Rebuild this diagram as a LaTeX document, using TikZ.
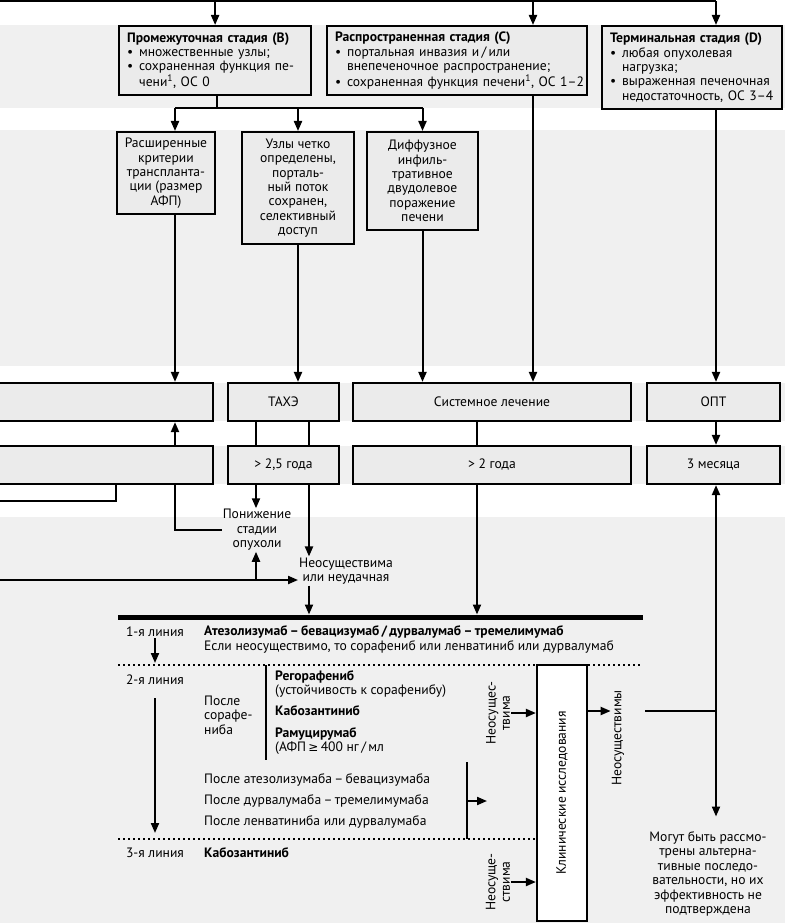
\documentclass[tikz,border=0pt]{standalone}
\usepackage{fontspec}
\setmainfont{PT Sans}
\newfontfamily\symfont{DejaVu Sans}
\usetikzlibrary{arrows.meta,backgrounds}

\newcommand{\itm}{\makebox[12pt][l]{\textbullet}}
\newcommand{\cnt}{\hspace*{12pt}}

\begin{document}
\begin{tikzpicture}[x=1pt,y=-1pt,>={Triangle[length=10pt,width=8pt]},
    font=\fontsize{13.6}{14.4}\selectfont]
    \tikzstyle{stage}=[draw=black,line width=2.2pt,fill=black!8,anchor=north west,align=left,inner xsep=8pt,inner ysep=0pt]
    \tikzstyle{crit}=[draw=black,line width=2.2pt,fill=black!8,anchor=north,align=center,inner sep=0pt]
    \tikzstyle{treat}=[draw=black,line width=2.2pt,fill=black!8,minimum height=38pt,inner sep=0pt]
    \tikzstyle{note}=[align=center,inner sep=1pt]
    \tikzstyle{txt}=[anchor=west,align=left,inner sep=0pt]
    \tikzstyle{rot}=[rotate=90,align=center,inner sep=1pt]
    \tikzstyle{edge}=[draw=black,line width=2pt]
    \tikzstyle{flow}=[edge,->]
    \tikzstyle{sep}=[draw=black,line width=1.7pt,dash pattern=on 1.7pt off 3.3pt]

    \useasboundingbox (0,0) rectangle (785,923);

    % stages
    \node [stage,text width=176pt,minimum height=69pt] (B) at (118,25)
        {\textbf{Промежуточная стадия (B)}\\
         \itm множественные узлы;\\
         \mbox{\itm сохраненная функция пе-}\\
         \cnt чени\textsuperscript{1}, ОС 0};
    \node [stage,text width=244pt,minimum height=69pt] (C) at (326,25)
        {\textbf{Распространенная стадия (C)}\\
         \itm портальная инвазия и\,/\,или\\
         \mbox{\cnt внепеченочное распространение;}\\
         \mbox{\itm сохраненная функция печени\textsuperscript{1}, ОС 1--2}};
    \node [stage,text width=164pt,minimum height=83pt] (D) at (601,25)
        {\textbf{Терминальная стадия (D)}\\
         \itm любая опухолевая\\
         \cnt нагрузка;\\
         \itm выраженная печеночная\\
         \mbox{\cnt недостаточность, ОС 3--4}};

    % criteria
    \node [crit,minimum width=98pt,minimum height=82pt] (tx) at (166,131)
        {Расширенные\\критерии\\транспланта-\\ции (размер\\АФП)};
    \node [crit,minimum width=112pt,minimum height=112pt] (nod) at (298,131)
        {Узлы четко\\определены,\\порталь-\\ный поток\\сохранен,\\селективный\\доступ};
    \node [crit,minimum width=111pt,minimum height=98pt] (dif) at (422.5,131)
        {Диффузное\\инфиль-\\тративное\\двудолевое\\поражение\\печени};

    % treatment and survival
    \node [treat,minimum width=223pt] (L1)   at (101.5,402) {};
    \node [treat,minimum width=111pt] (tace) at (283.5,402) {ТАХЭ};
    \node [treat,minimum width=278pt] (sys)  at (492,402)   {Системное лечение};
    \node [treat,minimum width=133pt] (opt)  at (713.5,402) {ОПТ};
    \node [treat,minimum width=223pt] (L2)   at (101.5,465) {};
    \node [treat,minimum width=111pt] (g25)  at (283.5,465) {> 2,5 года};
    \node [treat,minimum width=278pt] (g2)   at (492,465)   {> 2 года};
    \node [treat,minimum width=133pt] (m3)   at (713.5,465) {3 месяца};

    \node [note] (dn)   at (257,530) {Понижение\\стадии\\опухоли};
    \node [note] (fail) at (346,571) {Неосуществима\\или неудачная};

    % lines of therapy
    \node [note] (l1) at (155,632) {1-я линия};
    \node [note] (l2) at (155,680) {2-я линия};
    \node [note] (l3) at (155,853) {3-я линия};

    \node [txt] (t1) at (204,639.5)
        {\textbf{Атезолизумаб\,--\,бевацизумаб\,/\,дурвалумаб\,--\,тремелимумаб}\\
         Если неосуществимо, то сорафениб или ленватиниб или дурвалумаб};
    \node [txt] (aso) at (204,715) {После\\сорафе-\\ниба};
    \node [txt,anchor=north west] (t2) at (275,670)
        {\textbf{Регорафениб}\\(устойчивость к сорафенибу)\\[7pt]
         \textbf{Кабозантиниб}\\[7pt]
         \textbf{Рамуцирумаб}\\(АФП\,{\symfont\fontsize{12}{14}\selectfont ≥}\,400 нг\,/\,мл};
    \node [txt] (a1) at (204,780) {После атезолизумаба\,--\,бевацизумаба};
    \node [txt] (a2) at (204,801) {После дурвалумаба\,--\,тремелимумаба};
    \node [txt] (a3) at (204,822) {После ленватиниба или дурвалумаба};
    \node [txt] (t3) at (204,853) {\textbf{Кабозантиниб}};

    \node [rot] (nf1) at (498,713) {Неосущес-\\твима};
    \node [rot] (nf2) at (498,882) {Неосуще-\\ствима};
    \node [rot,draw=black,line width=2.2pt,fill=white,minimum width=256pt,minimum height=50pt] (ct) at (562,793)
        {Клинические исследования};
    \node [rot] (unw) at (618,738) {Неосуществимы};
    \node [note] (alt) at (708,874)
        {Могут быть рассмо-\\трены альтерна-\\тивные последо-\\вательности, но их\\эффективность не\\подтверждена};

    \coordinate (top0) at (0,1.2);
    \coordinate (cC)   at (533,1.2);
    \coordinate (cD)   at (716,1.2);
    \coordinate (bs)   at (217,108);
    \coordinate (c0)   at (116,0);
    \coordinate (c1)   at (175,0);
    \coordinate (c2)   at (256,0);
    \coordinate (c3)   at (309,0);
    \coordinate (c5)   at (477,0);
    \coordinate (l2o)  at (0,501);
    \coordinate (lft)  at (0,580);
    \coordinate (barL) at (118,617);
    \coordinate (barR) at (643,617);
    \coordinate (d1L)  at (118,665);
    \coordinate (d1R)  at (643,665);
    \coordinate (d2L)  at (118,839);
    \coordinate (v1)   at (266,665);
    \coordinate (v2)   at (266,760);
    \coordinate (br1)  at (467,762);
    \coordinate (br2)  at (467,839);
    \coordinate (brm)  at (467,801);
    \coordinate (brt)  at (487,801);
    \coordinate (mj)   at (716,711);

    \begin{pgfonlayer}{background}
        \fill [black!6] (0,25) rectangle (785,108);
        \fill [black!6] (0,130) rectangle (785,366);
        \fill [black!6] (0,383) rectangle (785,421);
        \fill [black!6] (0,446) rectangle (785,484);
        \fill [black!6] (0,517) rectangle (785,923);
        \draw [flow] (dn.west) -| (c1 |- L1.south);
    \end{pgfonlayer}

    % stages
    \draw [edge,line width=2.4pt] (top0) -- (cD);
    \draw [flow] (B.north |- top0) -- (B.north);
    \draw [flow] (cC) -- (cC |- C.north);
    \draw [flow] (cD) -- (cD |- D.north);
    \draw [edge] (bs |- B.south) -- (bs);
    \draw [edge] (c1 |- bs) -- (dif.north |- bs);
    \draw [flow] (c1 |- bs) -- (c1 |- tx.north);
    \draw [flow] (nod.north |- bs) -- (nod.north);
    \draw [flow] (dif.north |- bs) -- (dif.north);

    % to treatment
    \draw [flow] (c1 |- tx.south) -- (c1 |- L1.north);
    \draw [flow] (nod.south) -- (nod.south |- tace.north);
    \draw [flow] (dif.south) -- (dif.south |- sys.north);
    \draw [flow] (cC |- C.south) -- (cC |- sys.north);
    \draw [flow] (cD |- D.south) -- (cD |- opt.north);
    \draw [flow] (cD |- opt.south) -- (cD |- m3.north);
    \draw [edge] (c2 |- tace.south) -- (c2 |- g25.north);
    \draw [edge] (c3 |- tace.south) -- (c3 |- g25.north);
    \draw [edge] (c5 |- sys.south) -- (c5 |- g2.north);
    \draw [edge] (l2o) -| (c0 |- L2.south);

    \draw [flow] (c2 |- g25.south) -- (c2 |- dn.north);
    \draw [flow] (c3 |- g25.south) -- (c3 |- fail.north);
    \draw [flow] (lft) -- (lft -| fail.west);
    \draw [flow] (c2 |- lft) -- (c2 |- dn.south);
    \draw [flow,shorten >=2.5pt] (c3 |- fail.south) -- (c3 |- barL);
    \draw [flow,shorten >=2.5pt] (c5 |- g2.south) -- (c5 |- barL);
    \draw [draw=black,line width=5pt] (barL) -- (barR);

    % lines of therapy
    \draw [sep] (d1L) -- (d1L -| ct.north);
    \draw [sep] (d1R -| ct.south) -- (d1R);
    \draw [sep] (d2L) -- (d2L -| ct.north);
    \draw [flow,shorten >=2pt] (l1.south) -- (l1.south |- d1L);
    \draw [flow,shorten <=12pt,shorten >=6pt] (l2.south) -- (l2.south |- d2L);
    \draw [edge,line width=2.4pt] (v1) -- (v2);
    \draw [edge] (br1) -- (br2);
    \draw [flow] (brm) -- (brt);

    \draw [flow] (nf1.south) -- (nf1.south -| ct.north);
    \draw [flow] (nf2.south) -- (nf2.south -| ct.north);
    \draw [flow] (ct.south |- mj) -- (unw.north |- mj);
    \draw [edge,shorten <=20pt] (unw.south |- mj) -- (mj);
    \draw [flow] (mj) -- (mj |- m3.south);
    \draw [flow,shorten >=14pt] (mj) -- (mj |- alt.north);
\end{tikzpicture}
\end{document}
